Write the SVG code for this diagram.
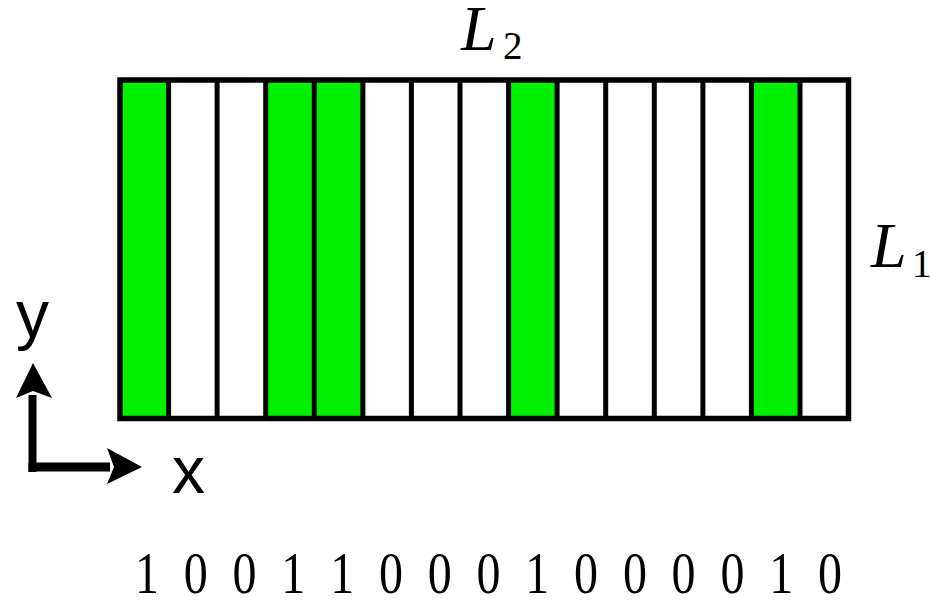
<svg xmlns="http://www.w3.org/2000/svg" width="930" height="600" viewBox="0 0 930 600">
<style>
.g{fill:#00f000}
.div{stroke:#000;stroke-width:5;fill:none}
.frame{stroke:#000;stroke-width:5.5;fill:none}
.lab{font-family:"Liberation Serif",serif;font-style:italic;fill:#000;font-size:64px}
.sub{font-family:"Liberation Serif",serif;fill:#000;font-size:39px}
.ax{font-family:"Liberation Sans",Arial,sans-serif;fill:#000;font-size:66px}
.dig{font-family:"Liberation Serif",serif;fill:#000;font-size:60px;text-anchor:middle}
</style>
<rect width="930" height="600" fill="#fff"/>
<g id="stripes">
<rect class="g" x="120" y="80" width="48.57" height="338.5"/>
<rect class="g" x="265.7" y="80" width="97.14" height="338.5"/>
<rect class="g" x="508.6" y="80" width="48.57" height="338.5"/>
<rect class="g" x="751.4" y="80" width="48.57" height="338.5"/>
</g>
<g id="dividers" class="div">
<line x1="168.6" y1="80" x2="168.6" y2="418.5"/>
<line x1="217.1" y1="80" x2="217.1" y2="418.5"/>
<line x1="265.7" y1="80" x2="265.7" y2="418.5"/>
<line x1="314.3" y1="80" x2="314.3" y2="418.5"/>
<line x1="362.9" y1="80" x2="362.9" y2="418.5"/>
<line x1="411.4" y1="80" x2="411.4" y2="418.5"/>
<line x1="460.0" y1="80" x2="460.0" y2="418.5"/>
<line x1="508.6" y1="80" x2="508.6" y2="418.5"/>
<line x1="557.1" y1="80" x2="557.1" y2="418.5"/>
<line x1="605.7" y1="80" x2="605.7" y2="418.5"/>
<line x1="654.3" y1="80" x2="654.3" y2="418.5"/>
<line x1="702.9" y1="80" x2="702.9" y2="418.5"/>
<line x1="751.4" y1="80" x2="751.4" y2="418.5"/>
<line x1="800.0" y1="80" x2="800.0" y2="418.5"/>
</g>
<g id="frame">
<rect class="frame" x="120" y="80" width="728.5" height="338.5"/>
</g>
<g id="labels">
<text class="lab" x="461" y="50">L</text>
<text class="sub" x="503" y="59">2</text>
<text class="lab" x="871" y="267">L</text>
<text class="sub" x="912" y="277">1</text>
</g>
<g id="axes">
<path d="M32.5,472 V395" stroke="#000" stroke-width="8" fill="none"/>
<path d="M28.5,467 H110" stroke="#000" stroke-width="9" fill="none"/>
<polygon points="33,363 52,398 33,391 16,398" fill="#000"/>
<polygon points="142,467 107,448 114,467 107,484" fill="#000"/>
<text class="ax" x="16" y="337">y</text>
<text class="ax" x="172" y="493">x</text>
</g>
<g id="bits" transform="translate(0,593) scale(0.8,1)">
<text class="dig" x="183.8" y="0">1</text>
<text class="dig" x="244.7" y="0">0</text>
<text class="dig" x="305.7" y="0">0</text>
<text class="dig" x="366.7" y="0">1</text>
<text class="dig" x="427.7" y="0">1</text>
<text class="dig" x="488.7" y="0">0</text>
<text class="dig" x="549.6" y="0">0</text>
<text class="dig" x="610.6" y="0">0</text>
<text class="dig" x="671.6" y="0">1</text>
<text class="dig" x="732.6" y="0">0</text>
<text class="dig" x="793.6" y="0">0</text>
<text class="dig" x="854.5" y="0">0</text>
<text class="dig" x="915.5" y="0">0</text>
<text class="dig" x="976.5" y="0">1</text>
<text class="dig" x="1037.5" y="0">0</text>
</g>
</svg>
